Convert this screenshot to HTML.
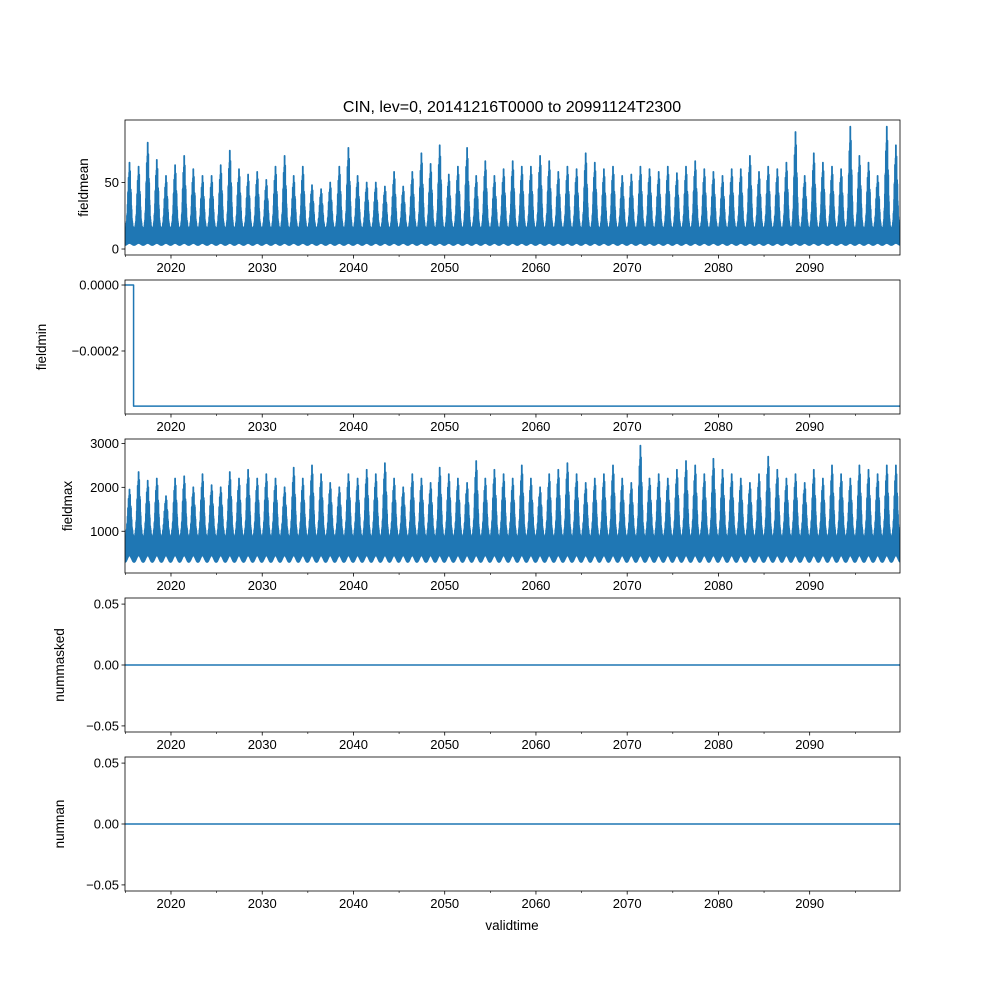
<!DOCTYPE html>
<html><head><meta charset="utf-8"><style>
body{margin:0;background:#fff}
svg{display:block;font-family:"Liberation Sans","DejaVu Sans",sans-serif}
</style></head><body>
<svg id="fig" width="1000" height="1000" viewBox="0 0 1000 1000">
<rect width="1000" height="1000" fill="#fff"/>
<text x="512" y="112" font-size="16" text-anchor="middle">CIN, lev=0, 20141216T0000 to 20991124T2300</text>
<text x="512" y="930" font-size="13.5" text-anchor="middle">validtime</text>
</svg>
<script>
const startYear = 2014.96, endYear = 2099.9;
const xTicks = [2020,2030,2040,2050,2060,2070,2080,2090];
const xMinorTicks = [2015,2025,2035,2045,2055,2065,2075,2085,2095];
const meanPeaks = [65,62,80,67,55,63,70,60,55,55,63,74,60,56,58,52,62,70,55,62,48,45,50,62,76,55,50,50,47,58,47,58,72,64,78,56,62,76,55,66,55,60,66,62,62,70,66,58,62,60,72,65,60,62,55,56,62,60,58,62,57,62,66,60,58,55,60,60,70,58,62,60,65,88,55,72,65,62,60,92,70,65,55,92,78];
const meanFloor = 3, meanBand = 26;
const maxPeaks = [1950,2350,2150,2200,1800,2200,2250,2000,2300,2050,2000,2350,2200,2400,2200,2300,2200,2000,2450,2200,2500,2300,2100,2000,2300,2200,2400,2300,2550,2200,2000,2300,2200,2100,2450,2300,2200,2100,2600,2200,2400,2300,2200,2500,2200,2000,2300,2400,2550,2300,2100,2200,2300,2500,2200,2100,2950,2200,2300,2200,2400,2600,2500,2300,2650,2400,2300,2200,2100,2300,2700,2400,2200,2300,2100,2400,2200,2500,2300,2200,2500,2400,2300,2500,2500];
const maxFloor = 300, maxBand = 1350;
const minValues = [0, -0.000367];
const minStepYear = 2015.9;
const meanTicks = [0,50], maxTicks = [1000,2000,3000], minTicks = [0,-0.0002], zeroTicks = [0.05,0,-0.05];
const tickLabelsMin = ["0.0000","\u22120.0002"], tickLabelsZero = ["0.05","0.00","\u22120.05"];

const svg = document.getElementById('fig');
const NS = 'http://www.w3.org/2000/svg';
const L = 125, R = 900;
const xs = y => L + (y - startYear) / (endYear - startYear) * (R - L);
function mk(tag, attrs, parent){const e=document.createElementNS(NS,tag);for(const k in attrs)e.setAttribute(k,attrs[k]);(parent||svg).appendChild(e);return e;}

const panels = [
 {name:'fieldmean', top:120, bot:255, vmin:-4.5, vmax:97, ticks:meanTicks, labels:meanTicks.map(String)},
 {name:'fieldmin', top:280, bot:414, vmin:-0.000391, vmax:0.0000152, ticks:minTicks, labels:tickLabelsMin},
 {name:'fieldmax', top:439, bot:573, vmin:50, vmax:3100, ticks:maxTicks, labels:maxTicks.map(String)},
 {name:'nummasked', top:598, bot:732, vmin:-0.055, vmax:0.055, ticks:zeroTicks, labels:tickLabelsZero},
 {name:'numnan', top:757, bot:891, vmin:-0.055, vmax:0.055, ticks:zeroTicks, labels:tickLabelsZero}
];

const jitter = [1,0.55,0.8,0.4,0.95,0.6,0.7,0.45,0.85,0.5];
function bandPath(ys, peaks, floor, band){
  let d = '';
  for (let i = 0; i < peaks.length; i++){
    const yr = 2015 + i;
    const N = 60;
    for (let k = 0; k < N; k++){
      const f = k / N, t = yr - 0.05 + f;
      if (t < startYear || t > endYear) continue;
      const s = Math.pow(Math.sin(Math.PI * f), 2);
      const spike = Math.pow(Math.sin(Math.PI * f), 5);
      const j = jitter[k % jitter.length];
      const hi = floor + (band - floor) * (0.55 + 0.45 * s) * (0.8 + 0.2 * j) + (peaks[i] - band) * spike * j;
      const lo = floor * (1 + 0.5 * s);
      const v = (k % 2 === 0) ? hi : lo;
      d += (d ? 'L' : 'M') + xs(t).toFixed(1) + ',' + ys(v).toFixed(1);
    }
  }
  return d;
}

panels.forEach(p => {
  const g = mk('g', {});
  
  
  const ys = v => p.bot - (v - p.vmin) / (p.vmax - p.vmin) * (p.bot - p.top);
  const clipId = 'c-' + p.name;
  const cp = mk('clipPath', {id: clipId}, g);
  mk('rect', {x: L, y: p.top, width: R - L, height: p.bot - p.top}, cp);
  const dg = mk('g', {'clip-path': 'url(#' + clipId + ')'}, g);
  let d;
  if (p.name === 'fieldmean') d = bandPath(ys, meanPeaks, meanFloor, meanBand);
  else if (p.name === 'fieldmax') d = bandPath(ys, maxPeaks, maxFloor, maxBand);
  else if (p.name === 'fieldmin') d = 'M' + L + ',' + ys(minValues[0]) + 'L' + xs(minStepYear) + ',' + ys(minValues[0]) + 'L' + xs(minStepYear) + ',' + ys(minValues[1]) + 'L' + R + ',' + ys(minValues[1]);
  else d = 'M' + L + ',' + ys(0) + 'L' + R + ',' + ys(0);
  const dense = (p.name === 'fieldmean' || p.name === 'fieldmax');
  const line = mk('path', {d: d, fill: 'none', stroke: '#1f77b4', 'stroke-width': dense ? 1.8 : 1.5, 'stroke-linejoin': 'round'}, dg);
  
  
  const frame = mk('rect', {x: L, y: p.top, width: R - L, height: p.bot - p.top, fill: 'none', stroke: '#000', 'stroke-width': 0.8}, g);
  
  
  xTicks.forEach(t => {
    mk('line', {x1: xs(t), x2: xs(t), y1: p.bot, y2: p.bot + 3.5, stroke: '#000', 'stroke-width': 0.8}, g);
    const tx = mk('text', {x: xs(t), y: p.bot + 17, 'font-size': 13, 'text-anchor': 'middle'}, g);
    tx.textContent = t;
    
    
  });
  xMinorTicks.forEach(t => mk('line', {x1: xs(t), x2: xs(t), y1: p.bot, y2: p.bot + 2, stroke: '#000', 'stroke-width': 0.6}, g));
  p.ticks.forEach((t, i) => {
    const y = ys(t);
    mk('line', {x1: L - 3.5, x2: L, y1: y, y2: y, stroke: '#000', 'stroke-width': 0.8}, g);
    const tx = mk('text', {x: L - 6, y: y + 4.5, 'font-size': 13, 'text-anchor': 'end'}, g);
    tx.textContent = p.labels[i];
    
    
  });
  const lblX = {fieldmean: 88, fieldmin: 46, fieldmax: 72, nummasked: 64, numnan: 64}[p.name];
  const cy = (p.top + p.bot) / 2;
  const yl = mk('text', {x: lblX, y: cy, 'font-size': 13.5, 'text-anchor': 'middle', transform: 'rotate(-90 ' + lblX + ' ' + cy + ')'}, g);
  yl.textContent = p.name;
  
  
});
</script>
</body></html>
